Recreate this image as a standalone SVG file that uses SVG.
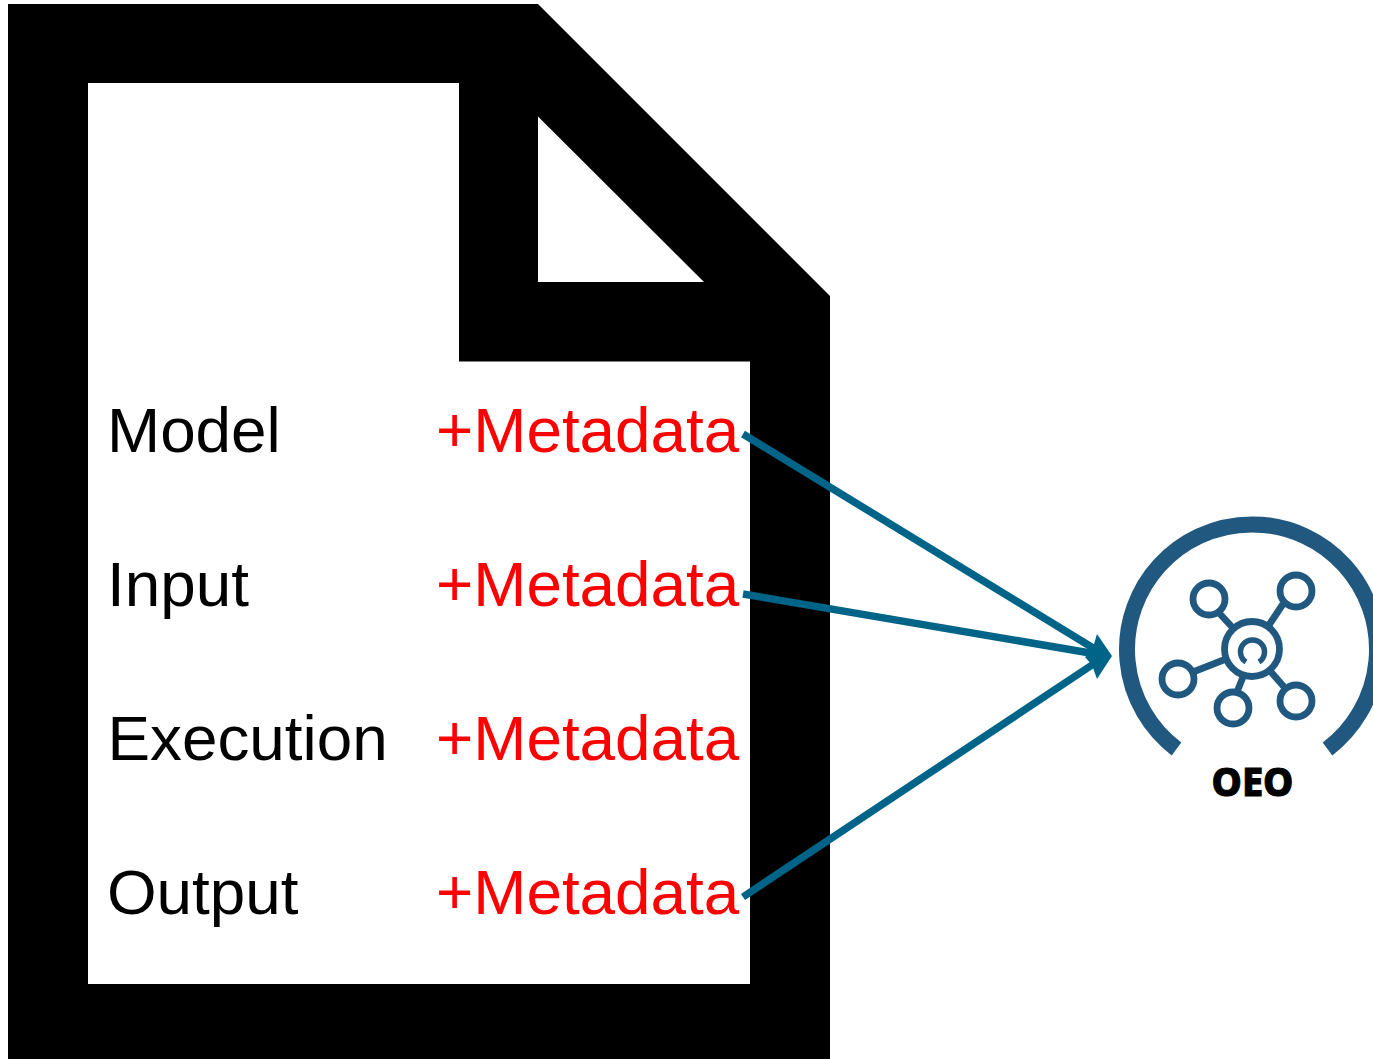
<svg xmlns="http://www.w3.org/2000/svg" width="1373" height="1059" viewBox="0 0 1373 1059">
<style>
text{font-family:"Liberation Sans",Arial,sans-serif;font-size:63.800px}
.l{fill:#000}
.m{fill:#f00}
.c{fill:none;stroke:#006488;stroke-width:7.500}
.h{fill:#006488}
.i{fill:none;stroke:#20587f;stroke-width:6.800}
</style>
<rect width="1373" height="1059" fill="#fff"/>
<g id="document">
<path fill="#000" d="M8 4H538L830 296V1059H8Z"/>
<path fill="#fff" d="M88 83H459V361.500H750V984H88Z"/>
<path fill="#fff" d="M538 116.500L704 282H538Z"/>
</g>
<g id="row-model"><text class="l" x="107" y="451.500">Model</text><text class="m" x="436" y="451.500">+Metadata</text></g>
<g id="row-input"><text class="l" x="107" y="605.500">Input</text><text class="m" x="436" y="605.500">+Metadata</text></g>
<g id="row-execution"><text class="l" x="107.500" y="759.500">Execution</text><text class="m" x="436" y="759.500">+Metadata</text></g>
<g id="row-output"><text class="l" x="107" y="913.500">Output</text><text class="m" x="436" y="913.500">+Metadata</text></g>
<g id="connectors">
<path class="c" d="M743 434L1098 651"/>
<path class="c" d="M743 594L1096 654"/>
<path class="c" d="M743 897L1098 661"/>
<path class="h" d="M1112 656L1097 634L1092 651L1085 657L1092 665L1097 679Z"/>
</g>
<g id="oeo">
<path fill="none" stroke="#20587f" stroke-width="16" d="M1176.500 749A125 125 0 1 1 1327.500 749"/>
<g>
<circle class="i" cx="1252" cy="649" r="27.500"/>
<circle class="i" cx="1209" cy="599" r="16"/>
<circle class="i" cx="1296" cy="591" r="16"/>
<circle class="i" cx="1178" cy="679" r="16"/>
<circle class="i" cx="1233" cy="708" r="16"/>
<circle class="i" cx="1296" cy="701" r="16"/>
<path class="i" d="M1220 614L1233 628M1283 604L1269 625M1193 672L1226 659M1237 692L1243 677M1285 688L1271 672"/>
<path class="i" style="stroke-width:5.500" d="M1246 662A12 12 0 1 1 1259 662"/>
</g>
<text x="1252.500" y="796" text-anchor="middle" textLength="82" lengthAdjust="spacingAndGlyphs" stroke="#000" stroke-width="1" style="font-family:'Noto Sans',sans-serif;font-size:40px;font-weight:800">OEO</text>
</g>
</svg>
